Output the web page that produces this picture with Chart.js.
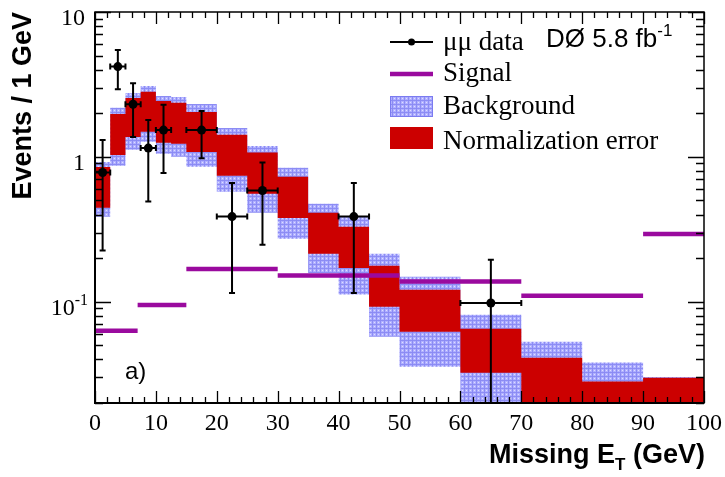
<!DOCTYPE html>
<html>
<head>
<meta charset="utf-8">
<script src="https://cdn.jsdelivr.net/npm/chart.js@4.4.1/dist/chart.umd.min.js"></script>
<style>
    html, body { margin: 0; padding: 0; background: #fff; }
    #wrap { width: 725px; height: 477px; }
</style>
</head>
<body>
<div id="wrap"><canvas id="c" width="725" height="477"></canvas></div>
<script>
// ===== Data =====
const binEdges = [0, 2.5, 5, 7.5, 10, 12.5, 15, 20, 25, 30, 35, 40, 45, 50, 60, 70, 80, 90, 100];

// background band (hatched blue) and normalization error band (red), events / 1 GeV
const bgHigh   = [0.92, 2.18, 2.76, 3.09, 2.63, 2.59, 2.32, 1.58, 1.19, 0.84, 0.474, 0.386, 0.214, 0.149, 0.0813, 0.053, 0.038, 0.0302];
const normHigh = [0.85, 1.98, 2.55, 2.81, 2.43, 2.36, 2.04, 1.42, 1.07, 0.728, 0.411, 0.329, 0.177, 0.121, 0.0652, 0.0411, 0.0281, 0.0299];
const normLow  = [0.445, 1.03, 1.37, 1.49, 1.25, 1.23, 1.08, 0.74, 0.556, 0.379, 0.214, 0.171, 0.0924, 0.0621, 0.0324, 0.015, 0.015, 0.015];
const bgLow    = [0.386, 0.867, 1.12, 1.27, 1.05, 1.0, 0.853, 0.574, 0.411, 0.272, 0.158, 0.112, 0.0574, 0.0356, 0.015, 0.015, 0.015, 0.015];

// mu-mu data points
const dataX     = [1.25, 3.75, 6.25, 8.75, 11.25, 17.5, 22.5, 27.5, 42.5, 65];
const dataXErr  = [1.25, 1.25, 1.25, 1.25, 1.25, 2.5, 2.5, 2.5, 2.5, 5];
const dataY     = [0.78, 4.2, 2.31, 1.15, 1.53, 1.53, 0.387, 0.586, 0.387, 0.098];
const dataYHigh = [1.31, 5.47, 3.22, 1.80, 2.29, 2.07, 0.659, 0.914, 0.659, 0.195];
const dataYLow  = [0.226, 2.93, 1.37, 0.492, 0.773, 0.98, 0.115, 0.247, 0.115, 0.001];

// signal (horizontal segments)
const sigLo  = [0, 7, 15, 30, 50, 70, 90];
const sigHi  = [7, 15, 30, 50, 70, 90, 100];
const sigVal = [0.063, 0.095, 0.168, 0.152, 0.138, 0.110, 0.293];

// axis ticks
const xMajor = [0, 10, 20, 30, 40, 50, 60, 70, 80, 90, 100];
const xTickLabels = ['0', '10', '20', '30', '40', '50', '60', '70', '80', '90', '100'];
const yMajor = [10, 1, 0.1];
const yTickBase = ['10', '1', '10'];
const yTickSup = ['', '', '-1'];

const RED = '#cc0000';
const PURPLE = '#9a0a9e';
const SERIF = '"Liberation Serif", "DejaVu Serif", serif';
const SANS = '"Liberation Sans", Arial, sans-serif';

// ============ HELPERS ============

function stepPoints(vals) {
    const pts = [];
    vals.forEach((v, i) => {
        pts.push({ x: binEdges[i], y: v });
        pts.push({ x: binEdges[i + 1], y: v });
    });
    return pts;
}

function signalPoints() {
    const pts = [];
    sigVal.forEach((v, i) => {
        pts.push({ x: sigLo[i], y: v });
        pts.push({ x: sigHi[i], y: v });
        if (i < sigVal.length - 1) pts.push({ x: sigHi[i], y: null });
    });
    return pts;
}

function makeHatch(ctx) {
    const c = document.createElement('canvas');
    c.width = 4; c.height = 4;
    const g = c.getContext('2d');
    g.fillStyle = '#b0b0ff'; g.fillRect(0, 0, 4, 4);
    g.fillStyle = '#8c8cf4'; g.fillRect(0, 0, 4, 1); g.fillRect(0, 0, 1, 4);
    g.fillStyle = '#dedeff'; g.fillRect(2, 2, 1, 1);
    return ctx.createPattern(c, 'repeat');
}

const canvas = document.getElementById('c');
const hatch = makeHatch(canvas.getContext('2d'));

// error bars on the data points
const errorBars = {
    id: 'errorBars',
    afterDatasetsDraw(chart) {
        const { ctx, chartArea: a, scales: { x, y } } = chart;
        ctx.save();
        ctx.beginPath();
        ctx.rect(a.left, a.top, a.right - a.left, a.bottom - a.top);
        ctx.clip();
        ctx.strokeStyle = '#000';
        ctx.lineWidth = 2;
        dataX.forEach((dx, i) => {
            const px = x.getPixelForValue(dx);
            const py = y.getPixelForValue(dataY[i]);
            const x0 = x.getPixelForValue(dx - dataXErr[i]);
            const x1 = x.getPixelForValue(dx + dataXErr[i]);
            const yt = y.getPixelForValue(dataYHigh[i]);
            const yb = y.getPixelForValue(dataYLow[i]);
            ctx.beginPath();
            ctx.moveTo(px, yt); ctx.lineTo(px, yb);
            ctx.moveTo(x0, py); ctx.lineTo(x1, py);
            // caps
            ctx.moveTo(px - 3, yt); ctx.lineTo(px + 3, yt);
            ctx.moveTo(px - 3, yb); ctx.lineTo(px + 3, yb);
            ctx.moveTo(x0, py - 3); ctx.lineTo(x0, py + 3);
            ctx.moveTo(x1, py - 3); ctx.lineTo(x1, py + 3);
            ctx.stroke();
        });
        ctx.restore();
    }
};

// frame, inward ticks, labels, legend and annotations
const frame = {
    id: 'frame',
    afterDraw(chart) {
        const { ctx, chartArea: a, scales: { x, y } } = chart;
        ctx.save();
        ctx.strokeStyle = '#000';

        // box
        ctx.lineWidth = 1.5;
        ctx.strokeRect(a.left, a.top, a.right - a.left, a.bottom - a.top);
        ctx.lineWidth = 2;
        ctx.beginPath();
        ctx.moveTo(a.left, a.top); ctx.lineTo(a.left, a.bottom); ctx.lineTo(a.right, a.bottom);
        ctx.stroke();

        // x ticks (bottom and top)
        ctx.lineWidth = 1.3;
        ctx.beginPath();
        for (let v = 0; v <= 100; v += 2) {
            const px = Math.round(x.getPixelForValue(v)) + 0.5;
            const len = v % 10 === 0 ? 12 : 6;
            ctx.moveTo(px, a.bottom); ctx.lineTo(px, a.bottom - len);
            ctx.moveTo(px, a.top); ctx.lineTo(px, a.top + len);
        }
        // y ticks (left and right)
        for (let e = -2; e <= 0; e++) {
            for (let m = 1; m <= 9; m++) {
                const v = m * Math.pow(10, e);
                if (v < 0.02 || v > 10) continue;
                const py = Math.round(y.getPixelForValue(v)) + 0.5;
                const len = m === 1 ? 16 : 8;
                ctx.moveTo(a.left, py); ctx.lineTo(a.left + len, py);
                ctx.moveTo(a.right, py); ctx.lineTo(a.right - len, py);
            }
        }
        const py10 = Math.round(y.getPixelForValue(10)) + 0.5;
        ctx.moveTo(a.left, py10); ctx.lineTo(a.left + 16, py10);
        ctx.moveTo(a.right, py10); ctx.lineTo(a.right - 16, py10);
        ctx.stroke();

        ctx.fillStyle = '#000';

        // x tick labels
        ctx.font = '24px ' + SERIF;
        ctx.textAlign = 'center';
        ctx.textBaseline = 'alphabetic';
        xMajor.forEach((v, i) => {
            ctx.fillText(xTickLabels[i], x.getPixelForValue(v), a.bottom + 27);
        });

        // y tick labels
        yMajor.forEach((v, i) => {
            const py = y.getPixelForValue(v);
            let right = 85;
            if (yTickSup[i]) {
                ctx.font = '16px ' + SERIF;
                ctx.textAlign = 'right';
                ctx.fillText(yTickSup[i], 88, py + 3);
                right = 88 - ctx.measureText(yTickSup[i]).width;
            }
            ctx.font = '24px ' + SERIF;
            ctx.textAlign = 'right';
            ctx.fillText(yTickBase[i], right, py + 13);
        });

        // axis titles
        ctx.textAlign = 'left';
        const part1 = 'Missing E';
        const part2 = 'T';
        const part3 = ' (GeV)';
        ctx.font = 'bold 27px ' + SANS;
        const w1 = ctx.measureText(part1).width;
        const w3 = ctx.measureText(part3).width;
        ctx.font = 'bold 17px ' + SANS;
        const w2 = ctx.measureText(part2).width;
        const xStart = a.right + 1 - (w1 + w2 + w3);
        ctx.font = 'bold 27px ' + SANS;
        ctx.fillText(part1, xStart, 463);
        ctx.fillText(part3, xStart + w1 + w2, 463);
        ctx.font = 'bold 17px ' + SANS;
        ctx.fillText(part2, xStart + w1, 470);

        ctx.save();
        ctx.translate(31, 12);
        ctx.rotate(-Math.PI / 2);
        ctx.font = 'bold 27px ' + SANS;
        ctx.textAlign = 'right';
        ctx.textBaseline = 'alphabetic';
        ctx.fillText('Events / 1 GeV', 0, 0);
        ctx.restore();

        // legend
        const lx0 = 390, lx1 = 433, tx = 443;
        ctx.lineWidth = 2;
        ctx.beginPath();
        ctx.moveTo(lx0, 42); ctx.lineTo(lx1, 42);
        ctx.stroke();
        ctx.beginPath();
        ctx.arc((lx0 + lx1) / 2, 42, 3.5, 0, Math.PI * 2);
        ctx.fill();

        ctx.strokeStyle = PURPLE;
        ctx.lineWidth = 4.5;
        ctx.beginPath();
        ctx.moveTo(lx0, 74); ctx.lineTo(lx1, 74);
        ctx.stroke();

        ctx.fillStyle = hatch;
        ctx.fillRect(lx0, 96, lx1 - lx0, 21);
        ctx.strokeStyle = '#7b7bf0';
        ctx.lineWidth = 1;
        ctx.strokeRect(lx0 + 0.5, 96.5, lx1 - lx0 - 1, 20);
        ctx.fillStyle = RED;
        ctx.fillRect(lx0, 127, lx1 - lx0, 22);

        ctx.fillStyle = '#000';
        ctx.font = '27px ' + SERIF;
        ctx.textAlign = 'left';
        ctx.fillText('\u03bc\u03bc data', tx, 50);
        ctx.fillText('Signal', tx, 81);
        ctx.fillText('Background', tx, 114);
        ctx.fillText('Normalization error', tx, 149);

        // experiment label
        ctx.font = '26px ' + SANS;
        ctx.fillText('D\u00d8 5.8 fb', 546, 47);
        const wd = ctx.measureText('D\u00d8 5.8 fb').width;
        ctx.font = '17px ' + SANS;
        ctx.fillText('-1', 546 + wd, 36);

        // panel label
        ctx.font = '24px ' + SANS;
        ctx.fillText('a)', 125, 379);

        ctx.restore();
    }
};

new Chart(canvas, {
    type: 'line',
    data: {
        datasets: [
            {
                label: '\u03bc\u03bc data',
                data: dataX.map((v, i) => ({ x: v, y: dataY[i] })),
                showLine: false,
                pointRadius: 4.5,
                pointBackgroundColor: '#000',
                pointBorderWidth: 0,
            },
            {
                label: 'Signal',
                data: signalPoints(),
                borderColor: PURPLE,
                borderWidth: 4.5,
                borderCapStyle: 'butt',
                pointRadius: 0,
                spanGaps: false,
                fill: false,
            },
            {
                label: 'Normalization error',
                data: stepPoints(normHigh),
                borderWidth: 0,
                pointRadius: 0,
                backgroundColor: RED,
                fill: '+1',
            },
            {
                label: 'norm low',
                data: stepPoints(normLow),
                borderWidth: 0,
                pointRadius: 0,
                fill: false,
            },
            {
                label: 'Background',
                data: stepPoints(bgHigh),
                borderWidth: 0,
                pointRadius: 0,
                backgroundColor: hatch,
                fill: '+1',
            },
            {
                label: 'bg low',
                data: stepPoints(bgLow),
                borderWidth: 0,
                pointRadius: 0,
                fill: false,
            },
        ]
    },
    options: {
        responsive: false,
        devicePixelRatio: 1,
        animation: false,
        layout: { padding: { top: 12, right: 21, left: 0, bottom: 0 } },
        plugins: {
            legend: { display: false },
            tooltip: { enabled: false },
        },
        scales: {
            x: {
                type: 'linear',
                min: 0,
                max: 100,
                ticks: { display: false },
                grid: { display: false },
                border: { display: false },
                afterFit(scale) { scale.height = 74; }
            },
            y: {
                type: 'logarithmic',
                min: 0.02,
                max: 10,
                ticks: { display: false },
                grid: { display: false },
                border: { display: false },
                afterFit(scale) { scale.width = 95; }
            }
        }
    },
    plugins: [errorBars, frame]
});
</script>
</body>
</html>
